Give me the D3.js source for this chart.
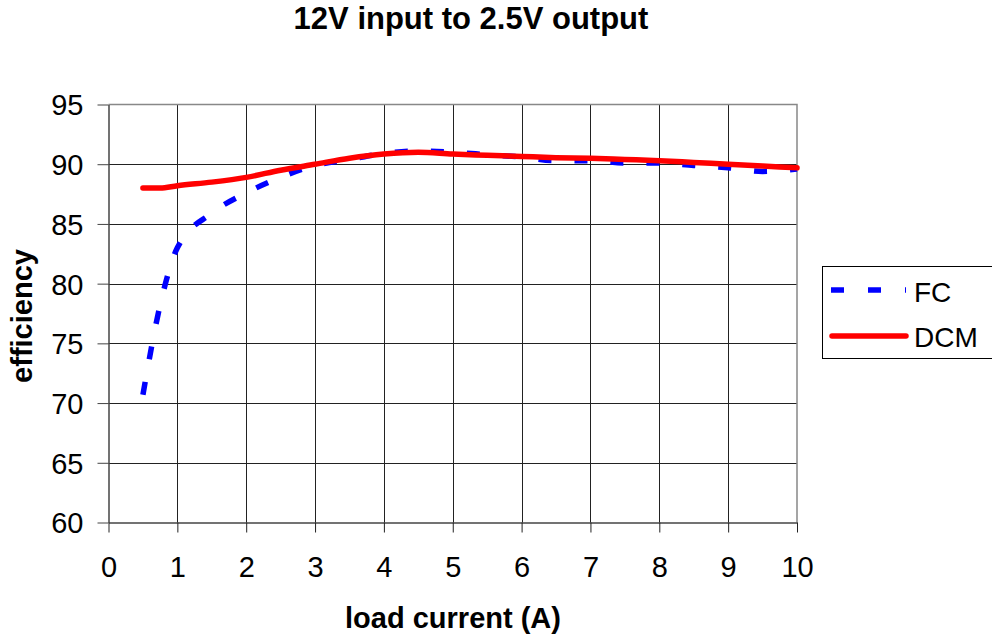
<!DOCTYPE html>
<html>
<head>
<meta charset="utf-8">
<style>
  body { margin: 0; background: #fff; }
  svg { font-family: "Liberation Sans", Arial, sans-serif; }
</style>
</head>
<body>
<svg width="992" height="636"></svg>
<script src="https://d3js.org/d3.v7.min.js"></script>
<script>

// load current (A) where both curves were measured
var loadCurrent = [0.5, 0.75, 1, 1.5, 2, 2.5, 3, 3.5, 4, 4.5, 5, 5.5, 6, 6.5, 7, 7.5, 8, 8.5, 9, 9.5, 10];
// efficiency values
var fcEff  = [70.7, 78.2, 83.0, 85.9, 87.6, 88.9, 89.9, 90.4, 90.9, 91.1, 91.0, 90.8, 90.6, 90.3, 90.3, 90.1, 90.1, 89.9, 89.7, 89.4, 89.6];
var dcmEff = [88.0, 88.0, 88.2, 88.5, 88.9, 89.5, 90.0, 90.5, 90.85, 91.0, 90.85, 90.75, 90.65, 90.55, 90.5, 90.4, 90.3, 90.15, 90.0, 89.85, 89.7];
var xTicks = [0, 1, 2, 3, 4, 5, 6, 7, 8, 9, 10];
var yTicks = [60, 65, 70, 75, 80, 85, 90, 95];
var seriesNames = ["FC", "DCM"];

var svg = d3.select("svg");
var plotL = 108.5, plotR = 797, plotT = 104.5, plotB = 522.5;

var x = d3.scaleLinear().domain([0, 10]).range([plotL, plotR]);
var y = d3.scaleLinear().domain([60, 95]).range([plotB, plotT]);

// title and axis labels
svg.append("text")
    .attr("x", 471).attr("y", 29)
    .attr("text-anchor", "middle")
    .attr("font-size", 31).attr("font-weight", "bold")
    .text("12V input to 2.5V output");

svg.append("text")
    .attr("x", 453).attr("y", 628)
    .attr("text-anchor", "middle")
    .attr("font-size", 29).attr("font-weight", "bold")
    .text("load current (A)");

svg.append("text")
    .attr("transform", "translate(32,316) rotate(-90)")
    .attr("text-anchor", "middle")
    .attr("font-size", 29).attr("font-weight", "bold")
    .text("efficiency");

// grid
var grid = svg.append("g").attr("stroke", "#222").attr("stroke-width", 1);
grid.selectAll(".gx").data(xTicks.slice(1, -1)).enter().append("line")
    .attr("x1", function(d) { return Math.round(x(d)) + 0.5; })
    .attr("x2", function(d) { return Math.round(x(d)) + 0.5; })
    .attr("y1", plotT).attr("y2", plotB);
grid.selectAll(".gy").data(yTicks.slice(1, -1)).enter().append("line")
    .attr("y1", function(d) { return Math.round(y(d)) + 0.5; })
    .attr("y2", function(d) { return Math.round(y(d)) + 0.5; })
    .attr("x1", plotL).attr("x2", plotR);

// plot frame: top and right in grey
svg.append("path")
    .attr("d", "M" + plotL + "," + plotT + "H" + plotR + "V" + plotB)
    .attr("fill", "none").attr("stroke", "#888").attr("stroke-width", 1.5);

// axes
var xAxis = d3.axisBottom(x).tickValues(xTicks).tickSize(10).tickSizeOuter(0);
var gx = svg.append("g").attr("transform", "translate(0," + plotB + ")").call(xAxis);
gx.attr("font-family", null).attr("font-size", null);
gx.select(".domain").attr("stroke", "#444").attr("stroke-width", 1.5);
gx.selectAll(".tick line").attr("stroke", "#222");
gx.selectAll("text").attr("font-size", 29).attr("fill", "#000")
    .attr("y", 54).attr("dy", 0);

var yAxis = d3.axisLeft(y).tickValues(yTicks).tickSize(11).tickSizeOuter(0);
var gy = svg.append("g").attr("transform", "translate(" + plotL + ",0)").call(yAxis);
gy.attr("font-family", null).attr("font-size", null);
gy.select(".domain").attr("stroke", "#444").attr("stroke-width", 1.5);
gy.selectAll(".tick line").attr("stroke", "#444");
gy.selectAll("text").attr("font-size", 29).attr("fill", "#000")
    .attr("x", -25).attr("dy", "0.36em");

// curves (smoothed like the spreadsheet lines)
var effLine = d3.line()
    .x(function(d, i) { return x(loadCurrent[i]); })
    .y(function(d) { return y(d); })
    .curve(d3.curveMonotoneX);

svg.append("path")
    .datum(fcEff)
    .attr("d", effLine)
    .attr("fill", "none")
    .attr("stroke", "#0000ff")
    .attr("stroke-width", 5.5)
    .attr("stroke-dasharray", "13,23");

svg.append("path")
    .datum(dcmEff)
    .attr("d", effLine)
    .attr("fill", "none")
    .attr("stroke", "#ff0000")
    .attr("stroke-width", 5.5)
    .attr("stroke-linecap", "round")
    .attr("stroke-linejoin", "round");

// legend
var legend = svg.append("g");
legend.append("rect")
    .attr("x", 822.5).attr("y", 266.5)
    .attr("width", 170).attr("height", 92)
    .attr("fill", "#fff").attr("stroke", "#000").attr("stroke-width", 1);

legend.append("line")
    .attr("x1", 831).attr("x2", 906).attr("y1", 290).attr("y2", 290)
    .attr("stroke", "#0000ff").attr("stroke-width", 5.5)
    .attr("stroke-dasharray", "13,24");
legend.append("line")
    .attr("x1", 832).attr("x2", 906).attr("y1", 336).attr("y2", 336)
    .attr("stroke", "#ff0000").attr("stroke-width", 5.5)
    .attr("stroke-linecap", "round");

legend.selectAll(".lt").data(seriesNames).enter().append("text")
    .attr("x", 914)
    .attr("y", function(d, i) { return 302 + i * 45; })
    .attr("font-size", 28)
    .text(function(d) { return d; });

</script>
</body>
</html>
